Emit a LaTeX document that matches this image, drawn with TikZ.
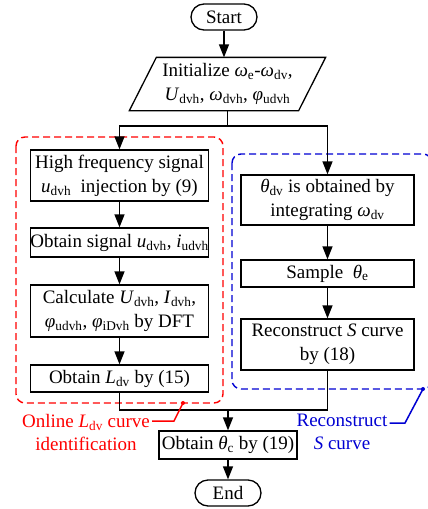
\documentclass[tikz,border=0pt]{standalone}
\usepackage{fontspec}
\setmainfont{Liberation Serif}
\usetikzlibrary{arrows.meta}
\definecolor{rouge}{RGB}{255,0,0}
\definecolor{bleu}{RGB}{0,0,210}
\newcommand{\indice}[2]{\textit{#1}$_{\mathrm{#2}}$}

\begin{document}
\begin{tikzpicture}[x=1pt,y=-1pt]
	\tikzset{boite/.style={draw=black, line width=1.3pt, align=center, inner sep=0pt, font=\fontsize{19}{24}\selectfont},
	terminal/.style={boite, rounded corners=13pt, minimum width=66pt, minimum height=26pt},
	fleche/.style={line width=1.3pt, -{Triangle[length=13pt,width=10pt]}},
	trait/.style={line width=1.3pt},
	cadre/.style={dash pattern=on 7pt off 4pt, line width=1.4pt, rounded corners=9pt},
	legende/.style={align=center, inner sep=2pt, font=\fontsize{19}{23}\selectfont}};

	\useasboundingbox (0,0) rectangle (428,509);

	% cadres en pointilles
	\draw[cadre, rouge] (16,137) rectangle (223,403);
	\draw[cadre, bleu] (232,154) rectangle (432,389);

	\node[terminal] (start) at (224,17) {Start};
	\node[boite, draw=none, minimum width=168pt, minimum height=52pt] (init) at (227.5,84)
		{Initialize \indice{ω}{e}-\indice{ω}{dv},\\ \indice{U}{dvh}, \indice{ω}{dvh}, \indice{φ}{udvh}};
	\draw[trait] ([xshift=-13.5pt]init.south west) -- ([xshift=13.5pt]init.north west)
		-- ([xshift=13.5pt]init.north east) -- ([xshift=-13.5pt]init.south east) -- cycle;

	% colonne gauche
	\node[boite, minimum width=178pt, minimum height=51pt] (b1) at (119.5,175.5)
		{High frequency signal\\ \indice{u}{dvh}\ \ injection by (9)};
	\node[boite, minimum width=178pt, minimum height=29pt] (b2) at (119.5,242.5)
		{Obtain signal \indice{u}{dvh}, \indice{i}{udvh}};
	\node[boite, minimum width=178pt, minimum height=52pt] (b3) at (119.5,311)
		{Calculate \indice{U}{dvh}, \indice{I}{dvh},\\ \indice{φ}{udvh}, \indice{φ}{iDvh} by DFT};
	\node[boite, minimum width=178pt, minimum height=27pt] (b4) at (119.5,378.5)
		{Obtain \indice{L}{dv} by (15)};

	% colonne droite
	\node[boite, minimum width=173pt, minimum height=50pt] (r1) at (327.5,200)
		{\indice{θ}{dv} is obtained by\\ integrating \indice{ω}{dv}};
	\node[boite, minimum width=173pt, minimum height=27pt] (r2) at (327.5,273.5)
		{Sample\ \ \indice{θ}{e}};
	\node[boite, minimum width=173pt, minimum height=51pt] (r3) at (327.5,344.5)
		{Reconstruct \textit{S} curve\\ by (18)};

	\node[boite, minimum width=138pt, minimum height=28pt] (final) at (228,445)
		{Obtain \indice{θ}{c} by (19)};
	\node[terminal] (end) at (228,493) {End};

	\coordinate (fourche) at (227.5,126);
	\coordinate (jonction) at (228,410);

	\draw[fleche] (start) -- (start |- init.north);
	\draw[trait] (init.south) -- (fourche);
	\draw[fleche] (fourche) -| (b1.north);
	\draw[fleche] (fourche) -| (r1.north);

	\foreach \a/\b in {b1/b2, b2/b3, b3/b4, r1/r2, r2/r3}{
		\draw[fleche] (\a) -- (\b);
	}

	\draw[trait] (b4.south) |- (jonction);
	\draw[trait] (r3.south) |- (jonction);
	\draw[fleche] (jonction) -- (final);
	\draw[fleche] (final) -- (end);

	% legendes
	\node[legende, text=rouge] (lrouge) at (86,432) {Online \indice{L}{dv} curve\\identification};
	\coordinate (prouge) at (183,403);
	\coordinate (crouge) at (174,421);
	\fill[rouge] (prouge) circle (2pt);
	\draw[rouge, line width=1.5pt] (prouge) -- (crouge) -- (crouge -| lrouge.east);

	\node[legende, text=bleu] (lbleu) at (342,432) {Reconstruct\\\textit{S} curve};
	\coordinate (pbleu) at (423,389);
	\coordinate (cbleu) at (405,423);
	\fill[bleu] (pbleu) circle (2pt);
	\draw[bleu, line width=1.5pt] (pbleu) -- (cbleu) -- (cbleu -| lbleu.east);
\end{tikzpicture}
\end{document}
